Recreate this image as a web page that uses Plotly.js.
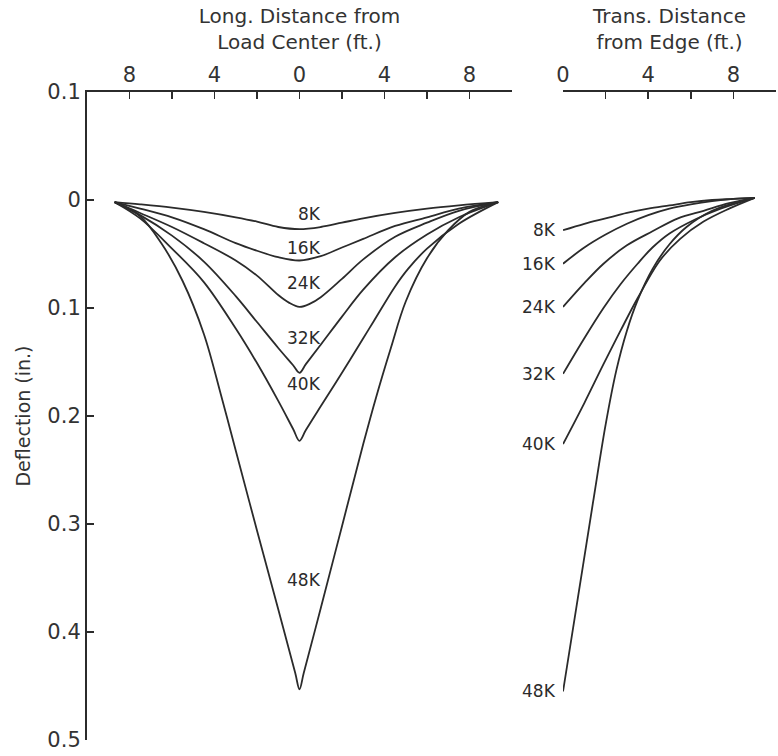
<!DOCTYPE html>
<html>
<head>
<meta charset="utf-8">
<script src="https://cdn.plot.ly/plotly-3.0.1.min.js"></script>
<style>html,body{margin:0;padding:0;background:#fff;}#chart{width:778px;height:756px;}</style>
</head>
<body>
<div id="chart"></div>
<script>
// ---- data ----
const loads = ["8K", "16K", "24K", "32K", "40K", "48K"];

// Longitudinal profiles (ft from load center, deflection in.)
const long8x  = [-8.7, -7.5, -6, -4.5, -3, -2, -1, 0, 1, 2, 3, 4.5, 6, 7.5, 9.35];
const long8y  = [0.002, 0.004, 0.007, 0.011, 0.016, 0.020, 0.025, 0.027, 0.025, 0.021, 0.017, 0.012, 0.008, 0.005, 0.002];
const long16x = [-8.7, -7.5, -6, -4.5, -3, -2, -1, 0, 1, 2, 3, 4.5, 6, 7.5, 9.35];
const long16y = [0.002, 0.008, 0.016, 0.027, 0.040, 0.047, 0.053, 0.056, 0.052, 0.044, 0.036, 0.024, 0.016, 0.008, 0.002];
const long24x = [-8.7, -7.5, -6, -4.5, -3, -2, -1, -0.5, 0, 0.5, 1, 2, 3, 4.5, 6, 7.5, 9.35];
const long24y = [0.002, 0.012, 0.025, 0.040, 0.056, 0.070, 0.088, 0.095, 0.099, 0.096, 0.090, 0.073, 0.055, 0.034, 0.021, 0.010, 0.002];
const long32x = [-8.7, -7.5, -6, -4.5, -3, -2, -1, -0.3, 0, 0.3, 1, 2, 3, 4.5, 6, 7.5, 9.35];
const long32y = [0.002, 0.014, 0.033, 0.057, 0.089, 0.113, 0.137, 0.153, 0.160, 0.152, 0.134, 0.108, 0.083, 0.053, 0.032, 0.016, 0.002];
const long40x = [-8.7, -7.5, -6, -4.5, -3, -2, -1, -0.3, 0, 0.3, 1, 2, 3, 3.5, 4.5, 5.1, 6, 7.5, 9.35];
const long40y = [0.002, 0.017, 0.045, 0.076, 0.119, 0.151, 0.186, 0.212, 0.223, 0.213, 0.191, 0.160, 0.128, 0.112, 0.080, 0.064, 0.045, 0.022, 0.002];
const long48x = [-8.7, -7.5, -6.5, -5.5, -4.5, -3.7, -3.0, -2, -1, -0.2, 0, 0.2, 1, 2, 3, 3.6, 4.3, 5, 6, 7, 8, 9.35];
const long48y = [0.002, 0.015, 0.040, 0.075, 0.124, 0.180, 0.232, 0.306, 0.379, 0.438, 0.453, 0.438, 0.378, 0.302, 0.226, 0.183, 0.137, 0.094, 0.054, 0.028, 0.011, 0.002];

// Transverse profiles (ft from edge, deflection in.)
const trans8x  = [0, 1, 2, 3, 4, 5, 6, 7, 8, 9];
const trans8y  = [0.028, 0.022, 0.017, 0.012, 0.008, 0.005, 0.002, 0.000, -0.001, -0.002];
const trans16x = [0, 1, 2, 3, 4, 5, 6, 7, 8, 9];
const trans16y = [0.059, 0.044, 0.032, 0.022, 0.014, 0.008, 0.004, 0.001, -0.001, -0.002];
const trans24x = [0, 1, 1.9, 3, 4.2, 5.4, 6.6, 7.8, 9];
const trans24y = [0.099, 0.077, 0.059, 0.042, 0.029, 0.017, 0.010, 0.003, -0.002];
const trans32x = [0, 1, 1.9, 2.7, 3.5, 4.2, 5, 6.2, 7.4, 9];
const trans32y = [0.161, 0.128, 0.100, 0.078, 0.059, 0.044, 0.031, 0.018, 0.008, -0.002];
const trans40x = [0, 1, 1.9, 2.7, 3.5, 4.55, 5.5, 6.6, 7.8, 9];
const trans40y = [0.226, 0.188, 0.152, 0.121, 0.091, 0.056, 0.036, 0.020, 0.008, -0.002];
const trans48x = [0, 0.7, 1.4, 2.0, 2.5, 3.0, 3.5, 4.2, 5, 5.8, 7, 8, 9];
const trans48y = [0.455, 0.368, 0.281, 0.208, 0.158, 0.121, 0.093, 0.064, 0.041, 0.025, 0.010, 0.003, -0.002];

// label positions (deflection values at which load labels sit)
const longLabelY  = [0.013, 0.044, 0.077, 0.128, 0.170, 0.352];

// axis ticks
const yTickVals = [-0.1, 0, 0.1, 0.2, 0.3, 0.4, 0.5];
const yTickText = ["0.1", "0", "0.1", "0.2", "0.3", "0.4", "0.5"];
const longTickVals = [-8, -6, -4, -2, 0, 2, 4, 6, 8, 10];
const longTickText = ["8", "", "4", "", "0", "", "4", "", "8", ""];
const transTickVals = [0, 2, 4, 6, 8, 10];
const transTickText = ["0", "", "4", "", "8", ""];

// ---- build ----
const longX = [long8x, long16x, long24x, long32x, long40x, long48x];
const longY = [long8y, long16y, long24y, long32y, long40y, long48y];
const transX = [trans8x, trans16x, trans24x, trans32x, trans40x, trans48x];
const transY = [trans8y, trans16y, trans24y, trans32y, trans40y, trans48y];

const ink = "#2b2b2b";
const fam = "DejaVu Sans, Arial, sans-serif";
const traces = [];
loads.forEach((name, i) => {
  traces.push({x: longX[i], y: longY[i], xaxis: "x", yaxis: "y", mode: "lines", name: name,
    line: {color: ink, width: 1.8, shape: "spline", smoothing: 1}, showlegend: false, hoverinfo: "x+y+name"});
  traces.push({x: transX[i], y: transY[i], xaxis: "x2", yaxis: "y2", mode: "lines", name: name,
    line: {color: ink, width: 1.8, shape: "spline", smoothing: 1}, showlegend: false, hoverinfo: "x+y+name"});
});

const annotations = [];
loads.forEach((name, i) => {
  annotations.push({xref: "x", yref: "y", x: 1.1, y: longLabelY[i], text: name, showarrow: false,
    xanchor: "right", yanchor: "middle", font: {family: fam, size: 17, color: ink}});
  annotations.push({xref: "x2", yref: "y2", x: 0, y: transY[i][0], text: name, showarrow: false,
    xanchor: "right", yanchor: "middle", xshift: -5, font: {family: fam, size: 17, color: ink}});
});

const axisCommon = {
  showgrid: false, zeroline: false, showline: true, linecolor: ink, linewidth: 2,
  ticks: "inside", ticklen: 7, tickwidth: 1.5, tickcolor: ink,
  tickfont: {family: fam, size: 21, color: "#333"}
};

const layout = {
  width: 778, height: 756,
  margin: {l: 0, r: 0, t: 92, b: 16},
  paper_bgcolor: "#fff", plot_bgcolor: "#fff",
  font: {family: fam, color: "#333"},
  xaxis: Object.assign({}, axisCommon, {
    domain: [0.1118, 0.6581], range: [-10, 10], side: "top", anchor: "y",
    tickmode: "array", tickvals: longTickVals, ticktext: longTickText,
    title: {text: "Long. Distance from<br>Load Center (ft.)", font: {family: fam, size: 20, color: "#333"}, standoff: 8}
  }),
  xaxis2: Object.assign({}, axisCommon, {
    domain: [0.7237, 0.9974], range: [0, 10], side: "top", anchor: "y2",
    tickmode: "array", tickvals: transTickVals, ticktext: transTickText,
    title: {text: "Trans. Distance<br>from Edge (ft.)", font: {family: fam, size: 20, color: "#333"}, standoff: 8}
  }),
  yaxis: Object.assign({}, axisCommon, {
    domain: [0, 1], range: [0.5, -0.1], anchor: "x",
    tickmode: "array", tickvals: yTickVals, ticktext: yTickText,
    title: {text: "Deflection (in.)", font: {family: fam, size: 19, color: "#333"}, standoff: 12}
  }),
  yaxis2: {
    domain: [0, 1], range: [0.5, -0.1], anchor: "x2", matches: "y",
    showline: false, showgrid: false, zeroline: false, showticklabels: false, ticks: ""
  },
  annotations: annotations
};

Plotly.newPlot("chart", traces, layout, {displayModeBar: false, staticPlot: true});
</script>
</body>
</html>
